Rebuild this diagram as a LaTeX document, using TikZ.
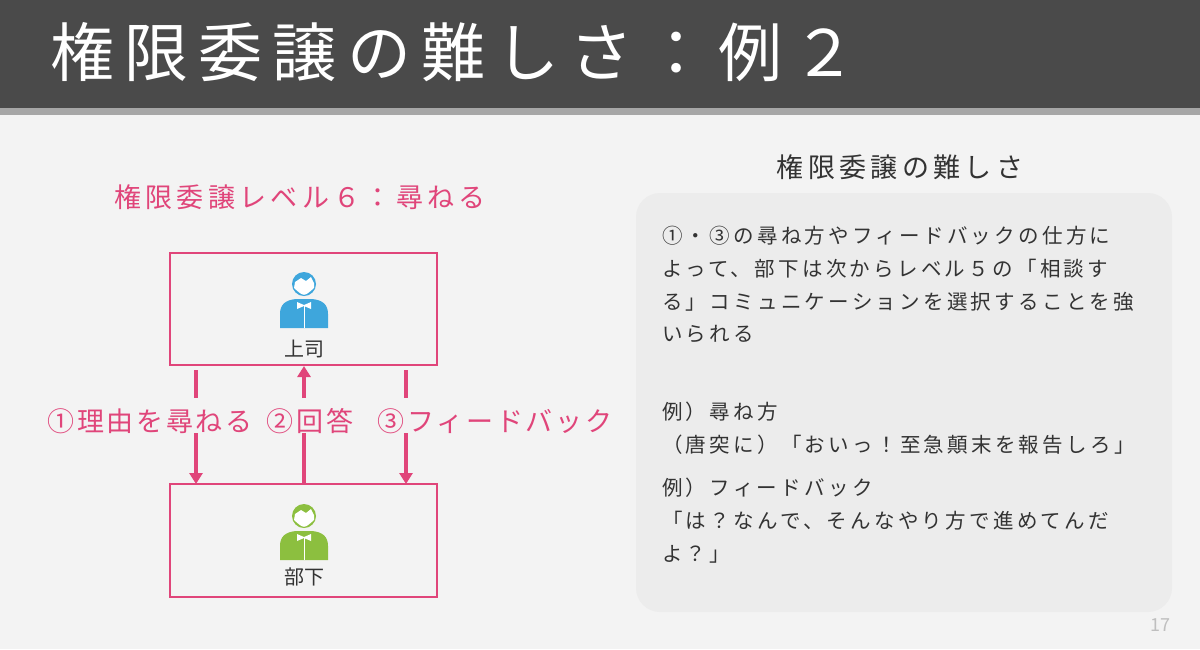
\documentclass[tikz,border=0pt]{standalone}
\usepackage{fontspec}
\setmainfont{Noto Sans CJK JP}
\newfontfamily\jpsp[LetterSpace=16]{Noto Sans CJK JP}
\newfontfamily\jpsl[LetterSpace=10]{Noto Sans CJK JP}
\newfontfamily\jpst[LetterSpace=16]{Noto Sans CJK JP}
\begin{document}
\begin{tikzpicture}[x=1pt,y=-1pt,
  pk/.style={draw=pinkc,line width=1.6pt},
  arr/.style={pinkc,line width=3.5pt,-{Triangle[length=11pt,width=13pt]}},
  seg/.style={pinkc,line width=3.5pt},
  lbl/.style={text=pinkc,font=\jpsl\fontsize{27}{30}\selectfont,inner sep=0},
  body/.style={font=\jpsp\fontsize{20.5}{32.8}\selectfont,text=textc,anchor=north west,inner sep=0,align=left}]
\usetikzlibrary{arrows.meta}
\definecolor{pinkc}{HTML}{E0457A}
\definecolor{textc}{HTML}{333333}
\definecolor{bgc}{HTML}{F3F3F3}
\definecolor{barc}{HTML}{4A4A4A}
\definecolor{blueman}{HTML}{3EA6DC}
\definecolor{greenman}{HTML}{8CBF3F}
\useasboundingbox (0,0) rectangle (1200,649);
\fill[bgc] (0,0) rectangle (1200,649);
\fill[barc] (0,0) rectangle (1200,108);
\fill[gray!70] (0,108) rectangle (1200,115);
\node[anchor=west,text=white,font=\jpst\fontsize{64}{66}\selectfont,inner sep=0] (title) at (50,52) {権限委譲の難しさ：例２};
\node[lbl,font=\jpst\fontsize{27}{30}\selectfont] (sub) at (300,197) {権限委譲レベル６：尋ねる};
\node[pk,minimum width=267pt,minimum height=112pt,inner sep=0] (boss) at (303.5,309) {};
\node[pk,minimum width=267pt,minimum height=113pt,inner sep=0] (sub2) at (303.5,540.5) {};
\node[font=\fontsize{20}{22}\selectfont,text=textc] (bl) at (304,349) {上司};
\node[font=\fontsize{20}{22}\selectfont,text=textc] (sl) at (304,577) {部下};
\foreach \cx/\cy/\c in {304/284/blueman,304/516/greenman}{
  \fill[\c] (\cx,\cy) circle (12);
  \fill[\c] (\cx-24,\cy+44) -- (\cx-24,\cy+30) .. controls (\cx-24,\cy+20) and (\cx-18,\cy+16) .. (\cx-8,\cy+15) -- (\cx+8,\cy+15) .. controls (\cx+18,\cy+16) and (\cx+24,\cy+20) .. (\cx+24,\cy+30) -- (\cx+24,\cy+44) -- cycle;
  \fill[white] (\cx-7,\cy+18) -- (\cx,\cy+21) -- (\cx+7,\cy+18) -- (\cx+7,\cy+25) -- (\cx,\cy+22) -- (\cx-7,\cy+25) -- cycle;
  \draw[white,line width=0.8pt] (\cx,\cy+22) -- (\cx,\cy+44);
  \fill[white] (\cx-9,\cy-2) -- (\cx-3,\cy-6) -- (\cx+2,\cy-3) -- (\cx+7,\cy-7) -- (\cx+10,\cy-1) -- (\cx+10,\cy+4) .. controls (\cx,\cy+13) .. (\cx-10,\cy+4) -- cycle;
}
\draw[seg] (196,370) -- (196,398);
\draw[arr] (196,433) -- (196,484);
\draw[seg] (304,483) -- (304,433);
\draw[arr] (304,398) -- (304,366);
\draw[seg] (406,370) -- (406,398);
\draw[arr] (406,433) -- (406,484);
\node[lbl] (l1) at (150,421) {①理由を尋ねる};
\node[lbl] (l2) at (310,421) {②回答};
\node[lbl] (l3) at (495,421) {③フィードバック};
\node[font=\jpsp\fontsize{27}{30}\selectfont,text=textc,inner sep=0] (h) at (900,167) {権限委譲の難しさ};
\fill[gray!15] (636,193) [rounded corners=24pt] rectangle (1172,612);
\node[body] (t1) at (662,226) {①・③の尋ね方やフィードバックの仕方に\\よって、部下は次からレベル５の「相談す\\る」コミュニケーションを選択することを強\\いられる};
\node[body] (t2) at (662,402) {例）尋ね方\\（唐突に）「おいっ！至急顛末を報告しろ」};
\node[body] (t3) at (662,478) {例）フィードバック\\「は？なんで、そんなやり方で進めてんだ\\よ？」};
\node[text=gray!50,font=\fontsize{18}{20}\selectfont] (pg) at (1160,625) {17};
\end{tikzpicture}
\end{document}
